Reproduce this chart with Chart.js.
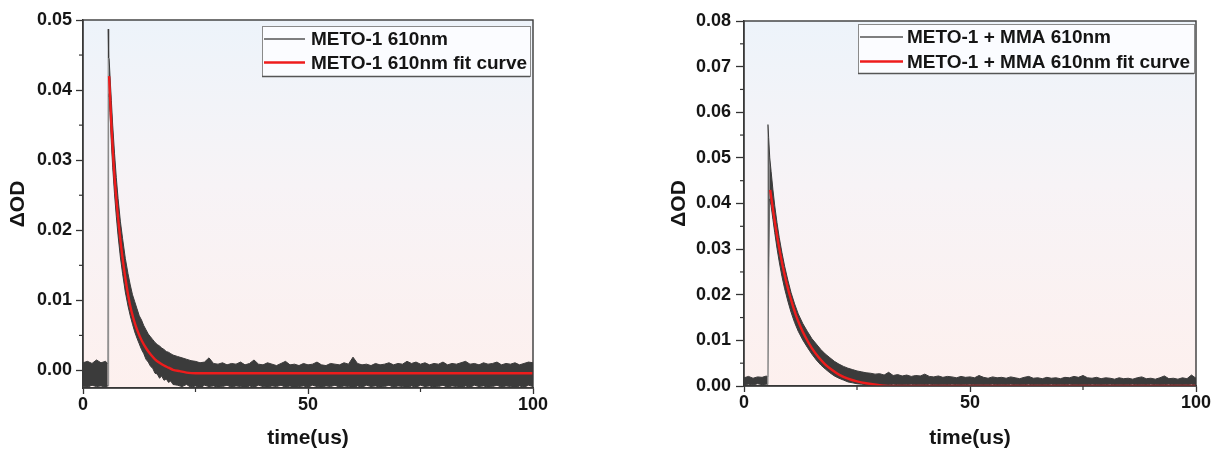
<!DOCTYPE html>
<html><head><meta charset="utf-8">
<script src="https://cdn.jsdelivr.net/npm/chart.js@4.4.1/dist/chart.umd.min.js"></script>
<style>
html,body{margin:0;padding:0;background:#fff;width:1211px;height:451px;overflow:hidden}
#c1{position:absolute;left:0;top:0}
#c2{position:absolute;left:598px;top:0}
</style></head><body>
<canvas id="c1" width="560" height="451"></canvas>
<canvas id="c2" width="613" height="451"></canvas>
<script>
// ---------- labels ----------
const xTitle = 'time(us)';
const yTitle = 'ΔOD';
const leftLabels = ['METO-1 610nm', 'METO-1 610nm fit curve'];
const rightLabels = ['METO-1 + MMA 610nm', 'METO-1 + MMA 610nm fit curve'];
const xTicks = [0, 50, 100];
const xMinorTicks = [25, 75];
const leftYTicks = [0, 0.01, 0.02, 0.03, 0.04, 0.05];
const rightYTicks = [0, 0.01, 0.02, 0.03, 0.04, 0.05, 0.06, 0.07, 0.08];

// ---------- left panel: measured signal (noise band edges) ----------
const leftTime = [0,1,2,3,4,5,5.5,5.6,5.7,
  5.8,6.0,6.3,6.6,7.0,7.4,7.8,8.3,8.8,9.4,
  10,10.5,11,11.5,12,12.5,13,13.5,14,14.5,15,15.5,16,16.5,17,17.5,18,18.5,19,19.5,20,
  21,22,23,24,25,26,27,28,29,30,31,32,33,34,35,36,37,38,39,40,
  41,42,43,44,45,46,47,48,49,50,51,52,53,54,55,56,57,58,59,60,
  61,62,63,64,65,66,67,68,69,70,71,72,73,74,75,76,77,78,79,80,
  81,82,83,84,85,86,87,88,89,90,91,92,93,94,95,96,97,98,99,100];
const leftUpper = [0.0011,0.0013,0.0010,0.0015,0.0011,0.0013,0.0010,0.0487,0.0446,
  0.0445,0.0420,0.0385,0.0350,0.0310,0.0275,0.0245,0.0213,0.0188,0.0160,
  0.0138,0.0122,0.0108,0.0098,0.0088,0.0078,0.0072,0.0064,0.0058,0.0052,0.0048,0.0044,0.0040,0.0037,0.0035,0.0032,0.0030,0.0027,0.0026,0.0024,0.0022,
  0.0020,0.0018,0.0016,0.0014,0.0013,0.0011,0.0012,0.0018,0.0010,0.0009,
  0.0011,0.0008,0.0010,0.0009,0.0012,0.0008,0.0010,0.0015,0.0009,0.0008,
  0.0011,0.0009,0.0007,0.0010,0.0013,0.0008,0.0009,0.0007,0.0010,0.0008,
  0.0009,0.0012,0.0008,0.0007,0.0010,0.0009,0.0008,0.0011,0.0009,0.0019,
  0.0010,0.0008,0.0009,0.0007,0.0010,0.0008,0.0009,0.0011,0.0008,0.0010,
  0.0009,0.0013,0.0010,0.0012,0.0009,0.0011,0.0008,0.0010,0.0009,0.0012,
  0.0008,0.0010,0.0009,0.0011,0.0013,0.0009,0.0010,0.0008,0.0011,0.0009,
  0.0010,0.0012,0.0008,0.0010,0.0009,0.0011,0.0008,0.0010,0.0012,0.0011];
const leftLower = [-0.0022,-0.0024,-0.0021,-0.0023,-0.0022,-0.0024,-0.0022,-0.0022,0.0390,
  0.0395,0.0368,0.0325,0.0290,0.0252,0.0220,0.0192,0.0162,0.0138,0.0112,
  0.0092,0.0078,0.0066,0.0055,0.0046,0.0038,0.0030,0.0024,0.0016,0.0012,0.0006,0.0003,-0.0004,-0.0005,-0.0011,-0.0008,-0.0014,-0.0012,-0.0017,-0.0015,-0.0020,
  -0.0021,-0.0023,-0.0020,-0.0024,-0.0022,-0.0025,-0.0021,-0.0023,-0.0022,-0.0024,
  -0.0023,-0.0021,-0.0024,-0.0022,-0.0023,-0.0025,-0.0022,-0.0024,-0.0021,-0.0023,
  -0.0024,-0.0022,-0.0023,-0.0021,-0.0024,-0.0022,-0.0025,-0.0023,-0.0022,-0.0024,
  -0.0021,-0.0023,-0.0024,-0.0022,-0.0023,-0.0021,-0.0024,-0.0022,-0.0023,-0.0025,
  -0.0022,-0.0024,-0.0021,-0.0023,-0.0022,-0.0024,-0.0023,-0.0021,-0.0024,-0.0022,
  -0.0023,-0.0025,-0.0022,-0.0024,-0.0021,-0.0023,-0.0022,-0.0024,-0.0023,-0.0021,
  -0.0024,-0.0022,-0.0023,-0.0025,-0.0022,-0.0024,-0.0021,-0.0023,-0.0022,-0.0024,
  -0.0023,-0.0021,-0.0024,-0.0022,-0.0023,-0.0025,-0.0022,-0.0024,-0.0021,-0.0023];
// left panel: fit curve
const leftFitTime = [5.8,6.3,6.8,7.4,8.0,8.7,9.5,10.4,11.3,12.2,13.1,14.1,15.0,16.0,17.0,18.0,19.0,20.0,21.5,23.0,25.0,30,40,50,60,70,80,90,100];
const leftFit = [0.0420,0.0350,0.0295,0.0245,0.0205,0.0165,0.0128,0.0095,0.0072,0.0055,0.0042,0.0031,0.0023,0.0016,0.0011,0.0007,0.0004,0.0001,-0.0001,-0.0003,-0.0004,-0.0004,-0.0004,-0.0004,-0.0004,-0.0004,-0.0004,-0.0004,-0.0004];

// ---------- right panel: measured signal (noise band edges) ----------
const rightTime = [0,1,2,3,4,5,5.2,5.3,5.45,
  5.7,6.0,6.4,6.8,7.3,7.8,8.4,9.0,9.7,10.4,11.2,
  12,13,14,15,16,17,18,19,20,21,22,23,24,25,26,27,28,29,30,
  31,32,33,34,35,36,37,38,39,40,41,42,43,44,45,46,47,48,49,50,
  51,52,53,54,55,56,57,58,59,60,61,62,63,64,65,66,67,68,69,70,
  71,72,73,74,75,76,77,78,79,80,81,82,83,84,85,86,87,88,89,90,
  91,92,93,94,95,96,97,98,99,100];
const rightUpper = [0.0018,0.0021,0.0017,0.0020,0.0019,0.0022,0.0020,0.0573,0.0545,
  0.0500,0.0470,0.0430,0.0395,0.0358,0.0325,0.0292,0.0262,0.0232,0.0205,0.0180,
  0.0158,0.0137,0.0120,0.0104,0.0092,0.0080,0.0070,0.0062,0.0054,0.0048,0.0043,0.0039,0.0036,0.0033,0.0031,0.0029,0.0028,0.0026,0.0027,
  0.0024,0.0030,0.0023,0.0025,0.0022,0.0024,0.0021,0.0023,0.0022,0.0026,
  0.0021,0.0020,0.0022,0.0019,0.0021,0.0020,0.0018,0.0021,0.0019,0.0020,
  0.0018,0.0023,0.0019,0.0017,0.0020,0.0018,0.0019,0.0017,0.0020,0.0018,
  0.0016,0.0019,0.0021,0.0017,0.0018,0.0016,0.0019,0.0017,0.0018,0.0016,
  0.0019,0.0018,0.0021,0.0019,0.0023,0.0018,0.0017,0.0019,0.0016,0.0018,
  0.0017,0.0015,0.0018,0.0016,0.0017,0.0015,0.0018,0.0020,0.0016,0.0017,
  0.0015,0.0018,0.0022,0.0016,0.0017,0.0015,0.0018,0.0016,0.0024,0.0017];
const rightLower = [0.0003,0.0004,0.0002,0.0005,0.0003,0.0004,0.0003,0.0003,0.0210,
  0.0410,0.0395,0.0365,0.0336,0.0302,0.0272,0.0240,0.0213,0.0186,0.0162,0.0139,
  0.0120,0.0101,0.0085,0.0070,0.0057,0.0046,0.0037,0.0029,0.0022,0.0017,0.0013,0.0009,0.0007,0.0005,0.0004,0.0003,0.0002,0.0002,0.0001,
  0.0003,0.0002,0.0004,0.0003,0.0002,0.0003,0.0004,0.0002,0.0003,0.0002,
  0.0004,0.0003,0.0002,0.0003,0.0002,0.0004,0.0003,0.0002,0.0003,0.0004,
  0.0002,0.0003,0.0002,0.0003,0.0004,0.0002,0.0003,0.0002,0.0004,0.0003,
  0.0002,0.0003,0.0004,0.0002,0.0003,0.0002,0.0003,0.0004,0.0002,0.0003,
  0.0002,0.0004,0.0003,0.0002,0.0003,0.0002,0.0004,0.0003,0.0002,0.0003,
  0.0004,0.0002,0.0003,0.0002,0.0003,0.0004,0.0002,0.0003,0.0002,0.0004,
  0.0003,0.0002,0.0003,0.0004,0.0002,0.0003,0.0002,0.0003,0.0004,0.0002];
// right panel: fit curve
const rightFitTime = [5.8,6.5,7.5,8.5,9.5,10.5,11.5,12.5,13.5,15,16.5,18,19.5,21,23,25,27,30,33,40,50,60,70,80,90,100];
const rightFit = [0.0430,0.0380,0.0318,0.0266,0.0222,0.0186,0.0155,0.0130,0.0109,0.0083,0.0063,0.0047,0.0035,0.0025,0.0016,0.0010,0.0006,0.0002,0.0000,0,0,0,0,0,0,0];

// ---------- styling / rendering ----------
const FONT = "'Liberation Sans', Arial, Helvetica, sans-serif";
const TEXT = '#151515';
const BAND = '#3b3b3b';
const RED = '#ee1c1c';
Chart.defaults.font.family = FONT;

function pts(xs, ys) { return xs.map((x, i) => ({ x: x, y: ys[i] })); }
function zeroPad(s) { s.paddingLeft = 0; s.paddingRight = 0; s.paddingTop = 0; s.paddingBottom = 0; }

const bgPlugin = {
  id: 'bgGrad',
  beforeDraw(chart) {
    const { ctx, chartArea: a } = chart;
    const g = ctx.createLinearGradient(0, a.top, 0, a.bottom);
    g.addColorStop(0, '#edf3fa');
    g.addColorStop(0.45, '#f7f3f6');
    g.addColorStop(1, '#fdf0ee');
    ctx.save();
    ctx.fillStyle = g;
    ctx.fillRect(a.left, a.top, a.right - a.left, a.bottom - a.top);
    ctx.restore();
  }
};

const framePlugin = {
  id: 'frame',
  afterDraw(chart, args, o) {
    const { ctx, chartArea: a, scales } = chart;
    ctx.save();
    ctx.strokeStyle = '#3a3a3a';
    ctx.lineWidth = 1.4;
    ctx.strokeRect(a.left, a.top, a.right - a.left, a.bottom - a.top);
    ctx.lineWidth = 1.2;
    ctx.strokeStyle = '#333';
    const yt = o.yMajor;
    for (let i = 0; i < yt.length - 1; i++) {
      const py = scales.y.getPixelForValue((yt[i] + yt[i + 1]) / 2);
      ctx.beginPath(); ctx.moveTo(a.left - 4, py); ctx.lineTo(a.left, py); ctx.stroke();
    }
    xMinorTicks.forEach(v => {
      const px = scales.x.getPixelForValue(v);
      ctx.beginPath(); ctx.moveTo(px, a.bottom); ctx.lineTo(px, a.bottom + 4); ctx.stroke();
    });
    const L = o.legend;
    ctx.fillStyle = 'rgba(252,253,255,0.92)';
    ctx.fillRect(L.x, L.y, L.w, L.h);
    ctx.strokeStyle = '#8a8a8a';
    ctx.lineWidth = 1;
    ctx.strokeRect(L.x + 0.5, L.y + 0.5, L.w, L.h);
    ctx.strokeStyle = '#555';
    ctx.lineWidth = 1.5;
    ctx.beginPath(); ctx.moveTo(L.x, L.y + L.h + 0.5); ctx.lineTo(L.x + L.w, L.y + L.h + 0.5); ctx.stroke();
    const entries = [
      { text: o.labels[0], color: '#555', width: 1.5 },
      { text: o.labels[1], color: RED, width: 2.5 }
    ];
    ctx.font = 'bold 19px ' + FONT;
    ctx.textBaseline = 'middle';
    ctx.textAlign = 'left';
    entries.forEach((e, i) => {
      const ry = L.rows[i];
      ctx.strokeStyle = e.color;
      ctx.lineWidth = e.width;
      ctx.beginPath(); ctx.moveTo(L.lx0, ry); ctx.lineTo(L.lx1, ry); ctx.stroke();
      ctx.fillStyle = TEXT;
      ctx.fillText(e.text, L.tx, ry + 1);
    });
    ctx.restore();
  }
};

function makeChart(id, cfg) {
  const tickFont = { family: FONT, size: 18, weight: 'bold' };
  const titleFont = { family: FONT, size: 21, weight: 'bold' };
  return new Chart(document.getElementById(id), {
    type: 'line',
    data: {
      datasets: [
        { label: cfg.labels[1], data: pts(cfg.fitT, cfg.fit), borderColor: RED, borderWidth: 2.4,
          pointRadius: 0, fill: false, cubicInterpolationMode: 'monotone', clip: 0 },
        { label: cfg.labels[0], data: pts(cfg.t, cfg.up), borderColor: BAND, borderWidth: 1,
          pointRadius: 0, fill: '+1', backgroundColor: BAND, clip: 0,
          segment: { borderColor: c => Math.abs(c.p1.parsed.y - c.p0.parsed.y) > 0.015 ? '#8c8c8c' : BAND } },
        { label: '', data: pts(cfg.t, cfg.lo), borderColor: BAND, borderWidth: 1,
          pointRadius: 0, fill: false, clip: 0,
          segment: { borderColor: c => Math.abs(c.p1.parsed.y - c.p0.parsed.y) > 0.015 ? '#8c8c8c' : BAND } }
      ]
    },
    options: {
      responsive: false, animation: false, devicePixelRatio: 1,
      layout: { padding: cfg.pad },
      plugins: {
        legend: { display: false }, tooltip: { enabled: false },
        frame: { yMajor: cfg.yTicks, legend: cfg.legend, labels: cfg.labels }
      },
      scales: {
        x: {
          type: 'linear', min: 0, max: 100,
          afterBuildTicks: s => { s.ticks = xTicks.map(v => ({ value: v })); },
          afterFit: s => { s.height = cfg.xH; zeroPad(s); },
          ticks: { font: tickFont, color: TEXT, padding: 0, maxRotation: 0, autoSkip: false },
          grid: { drawOnChartArea: false, drawTicks: true, tickLength: 6, tickColor: '#333', tickWidth: 1.3 },
          border: { display: true, color: '#333', width: 1.4 },
          title: { display: true, text: xTitle, font: titleFont, color: TEXT, padding: { top: 0, bottom: 0 } }
        },
        y: {
          type: 'linear', min: cfg.yMin, max: cfg.yMax,
          afterBuildTicks: s => { s.ticks = cfg.yTicks.map(v => ({ value: v })); },
          afterFit: s => { s.width = 83; zeroPad(s); },
          ticks: { font: tickFont, color: TEXT, padding: cfg.yPad, callback: v => Number(v).toFixed(2) },
          grid: { drawOnChartArea: false, drawTicks: true, tickLength: cfg.yTL, tickColor: '#333', tickWidth: 1.3 },
          border: { display: true, color: '#333', width: 1.4 },
          title: { display: true, text: yTitle, font: titleFont, color: TEXT, padding: { top: 6, bottom: 0 } }
        }
      }
    },
    plugins: [bgPlugin, framePlugin]
  });
}

makeChart('c1', {
  labels: leftLabels, t: leftTime, up: leftUpper, lo: leftLower, fitT: leftFitTime, fit: leftFit,
  yMin: -0.0025, yMax: 0.05, yTicks: leftYTicks, yPad: 4, yTL: 7,
  pad: { left: 0, right: 27, top: 20, bottom: 0 }, xH: 63,
  legend: { x: 262, y: 26, w: 268, h: 50, rows: [39, 62.5], lx0: 264, lx1: 305, tx: 311 }
});
makeChart('c2', {
  labels: rightLabels, t: rightTime, up: rightUpper, lo: rightLower, fitT: rightFitTime, fit: rightFit,
  yMin: 0, yMax: 0.08, yTicks: rightYTicks, yPad: 5, yTL: 8,
  pad: { left: 63, right: 15, top: 21, bottom: 0 }, xH: 65,
  legend: { x: 260, y: 24, w: 336, h: 49, rows: [37, 61.5], lx0: 262, lx1: 305, tx: 309 }
});
</script>
</body></html>
